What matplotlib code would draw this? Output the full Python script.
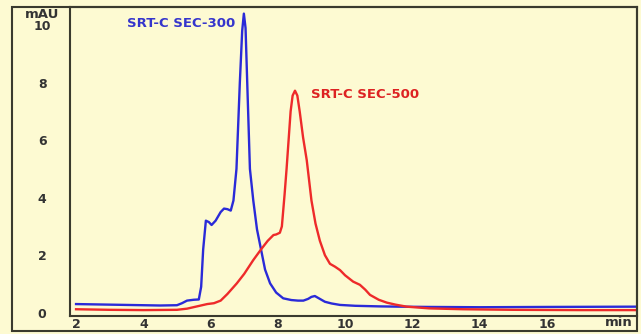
import matplotlib
matplotlib.use("Agg")
import matplotlib.pyplot as plt
from matplotlib.patches import Rectangle

# SRT-C SEC-300 (blue)
t300 = [2.0, 3.0, 4.0, 4.5, 5.0, 5.15, 5.3, 5.5, 5.65, 5.72, 5.78, 5.86, 5.95, 6.03,
        6.15, 6.3, 6.4, 6.5, 6.6, 6.68, 6.77, 6.87, 6.94, 6.99, 7.04, 7.09, 7.17, 7.27,
        7.38, 7.5, 7.62, 7.77, 7.95, 8.16, 8.4, 8.6, 8.76, 8.9, 9.0, 9.1, 9.22, 9.4,
        9.6, 9.85, 10.3, 11.0, 11.6, 12.5, 14.0, 16.0, 18.7]
a300 = [0.30, 0.28, 0.26, 0.25, 0.26, 0.33, 0.42, 0.45, 0.46, 0.9, 2.2, 3.2, 3.15, 3.05,
        3.2, 3.5, 3.62, 3.6, 3.55, 3.9, 5.0, 8.0, 9.8, 10.4, 9.9, 8.0, 5.0, 3.9,
        2.9, 2.2, 1.5, 1.02, 0.7, 0.5, 0.44, 0.42, 0.42, 0.48, 0.55, 0.58, 0.5, 0.38,
        0.32, 0.27, 0.24, 0.22, 0.21, 0.2, 0.19, 0.2, 0.21]

# SRT-C SEC-500 (red)
t500 = [2.0, 3.0, 4.0, 5.0, 5.3, 5.6, 5.9, 6.1, 6.3, 6.5, 6.78, 7.0, 7.27, 7.5, 7.7,
        7.87, 7.95, 8.06, 8.12, 8.2, 8.26, 8.32, 8.38, 8.44, 8.51, 8.58, 8.65, 8.75,
        8.86, 9.0, 9.12, 9.25, 9.4, 9.55, 9.7, 9.85, 10.0, 10.24, 10.44, 10.6, 10.74,
        11.0, 11.24, 11.5, 11.83, 12.5, 13.5, 15.0, 17.0, 18.7]
a500 = [0.12, 0.10, 0.09, 0.10, 0.14, 0.22, 0.30, 0.33, 0.42, 0.65, 1.02, 1.35, 1.83,
        2.2, 2.5, 2.7, 2.72, 2.78, 3.0, 4.1, 5.0, 6.0, 7.0, 7.55, 7.72, 7.55, 7.0, 6.1,
        5.3, 3.9, 3.1, 2.5, 2.0, 1.7, 1.6, 1.48, 1.3, 1.08, 0.97, 0.8, 0.62,
        0.45, 0.35, 0.28, 0.21, 0.15, 0.12, 0.1, 0.09, 0.09]

xticks = [2, 4, 6, 8, 10, 12, 14, 16]
yticks = [0, 2, 4, 6, 8, 10]

W, H = 641, 334
bg = '#FDFAD2'
dark = '#3a3a2e'
txt = '#333333'

fig = plt.figure(figsize=(W / 100, H / 100), dpi=100)
fig.patch.set_facecolor(bg)

ax = fig.add_axes([70 / W, (H - 316) / H, (637 - 70) / W, (316 - 7) / H])
ax.set_facecolor(bg)
ax.plot(t300, a300, color='#2a2ad8', lw=1.7, solid_joinstyle='round')
ax.plot(t500, a500, color='#ee2a2a', lw=1.7, solid_joinstyle='round')
ax.set_xlim(1.82, 18.68)
ax.set_ylim(-0.115, 10.63)

ax.set_xticks(xticks)
ax.set_xticklabels([str(v) for v in xticks])
ax.set_yticks(yticks)
ax.set_yticklabels([str(v) for v in yticks])
ax.tick_params(axis='both', length=0, labelsize=9, labelcolor=txt)
ax.tick_params(axis='x', pad=1.5)
ax.tick_params(axis='y', pad=20)
for lab in ax.get_xticklabels() + ax.get_yticklabels():
    lab.set_fontweight('bold')
for lab in ax.get_yticklabels():
    lab.set_horizontalalignment('center')
for s in ax.spines.values():
    s.set_color(dark)
    s.set_linewidth(1.5)

ax.text(6.73, 10.07, 'SRT-C SEC-300', color='#3535cc', fontsize=9.5, fontweight='bold',
        ha='right', va='center')
ax.text(8.99, 7.59, 'SRT-C SEC-500', color='#dd2222', fontsize=9.5, fontweight='bold',
        ha='left', va='center')

fig.text(42 / W, 1 - 14.5 / H, 'mAU', ha='center', va='center', fontsize=9.5,
         fontweight='bold', color=txt)
fig.text(619 / W, 1 - 322 / H, 'min', ha='center', va='center', fontsize=9.5,
         fontweight='bold', color=txt)

fig.patches.append(Rectangle((12 / W, (H - 331) / H), (637 - 12) / W, (331 - 7) / H,
                             transform=fig.transFigure, fill=False, edgecolor=dark,
                             lw=1.5, zorder=0))

fig.savefig('out.png', dpi=100, facecolor=bg)
